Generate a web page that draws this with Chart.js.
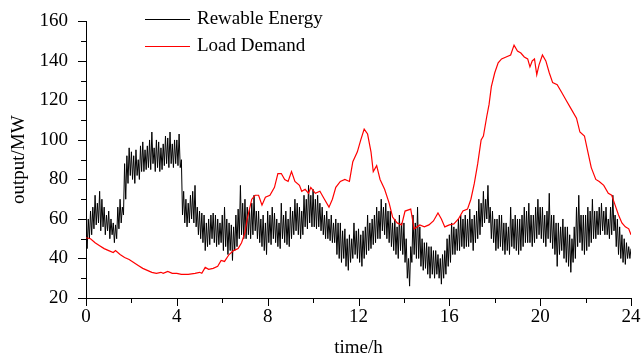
<!DOCTYPE html>
<html>
<head>
<meta charset="utf-8">
<script src="https://cdn.jsdelivr.net/npm/chart.js@4.4.1/dist/chart.umd.min.js"></script>
<style>
  html, body { margin: 0; padding: 0; background: #fff; }
  #wrap { width: 643px; height: 361px; }
</style>
</head>
<body>
<div id="wrap"><canvas id="powerChart" width="643" height="361"></canvas></div>
<script>
// renewable output, one reading every 0.05 h from 0 to 24 h (one row per hour)
const renewStep = 0.05;
const renewValues = [
  56, 45, 60, 50, 64, 52, 66, 55, 72, 57, 68, 58, 74, 54, 70, 56, 66, 52, 62, 54,
  64, 50, 60, 52, 58, 48, 57, 50, 66, 55, 70, 58, 66, 62, 88, 70, 92, 78, 96, 82,
  94, 80, 92, 78, 95, 82, 90, 80, 97, 84, 99, 84, 95, 85, 97, 86, 100, 85, 104, 88,
  96, 84, 100, 86, 99, 84, 96, 85, 98, 87, 102, 88, 101, 86, 104, 88, 98, 86, 100, 88,
  100, 87, 103, 86, 90, 62, 74, 58, 70, 56, 68, 58, 72, 60, 74, 58, 77, 56, 66, 52,
  64, 50, 63, 48, 62, 44, 58, 46, 60, 47, 62, 50, 63, 48, 62, 46, 60, 47, 58, 48,
  62, 44, 66, 46, 60, 42, 58, 44, 57, 39, 56, 44, 62, 46, 65, 50, 77, 52, 68, 50,
  70, 50, 66, 52, 65, 50, 68, 52, 72, 54, 64, 50, 64, 48, 60, 46, 62, 44, 58, 42,
  64, 48, 62, 47, 66, 50, 63, 48, 60, 46, 58, 45, 68, 50, 62, 48, 64, 47, 60, 46,
  66, 50, 64, 52, 70, 54, 68, 52, 66, 50, 64, 52, 72, 56, 70, 55, 77, 58, 72, 56,
  75, 56, 70, 55, 72, 56, 68, 54, 66, 52, 62, 50, 64, 50, 60, 49, 62, 48, 58, 48,
  60, 42, 58, 40, 58, 38, 54, 40, 55, 36, 50, 34, 52, 38, 50, 40, 58, 42, 54, 40,
  55, 38, 52, 36, 54, 40, 56, 42, 62, 44, 58, 45, 60, 47, 62, 48, 66, 50, 64, 50,
  70, 54, 66, 52, 68, 50, 64, 48, 64, 46, 58, 44, 60, 42, 56, 40, 62, 44, 58, 42,
  58, 38, 50, 30, 40, 26, 46, 38, 62, 42, 58, 40, 66, 40, 56, 36, 50, 34, 48, 35,
  48, 32, 46, 30, 46, 32, 44, 30, 44, 32, 42, 30, 40, 27, 42, 30, 44, 32, 50, 36,
  52, 38, 58, 42, 56, 42, 55, 44, 60, 44, 62, 46, 60, 45, 62, 46, 60, 46, 65, 48,
  60, 44, 62, 48, 64, 50, 70, 52, 68, 56, 74, 58, 70, 60, 77, 58, 66, 50, 64, 48,
  60, 44, 60, 45, 62, 46, 62, 44, 58, 42, 58, 44, 56, 42, 66, 46, 60, 45, 62, 44,
  60, 42, 60, 44, 62, 46, 66, 48, 64, 48, 68, 48, 62, 46, 62, 48, 66, 50, 70, 52,
  66, 50, 66, 48, 62, 46, 64, 50, 73, 48, 62, 45, 62, 42, 58, 36, 58, 42, 56, 44,
  60, 40, 56, 38, 56, 36, 52, 33, 50, 38, 56, 40, 66, 46, 72, 48, 62, 44, 62, 42,
  62, 44, 66, 46, 64, 48, 70, 50, 64, 50, 64, 52, 66, 52, 68, 54, 64, 52, 66, 52,
  60, 50, 66, 52, 72, 54, 62, 46, 60, 42, 56, 40, 52, 38, 50, 37, 48, 40, 46, 40,
  45
];

// load demand, read at irregular times (h)
const loadHours = [
  0, 0.2, 0.4, 0.6, 0.8, 1.0, 1.2, 1.3, 1.5, 1.7, 1.9, 2.1, 2.3, 2.5, 2.7, 2.9,
  3.1, 3.3, 3.4, 3.6, 3.8, 4.0, 4.2, 4.5, 4.8, 5.0, 5.1, 5.25, 5.4, 5.6, 5.8, 5.95,
  6.1, 6.3, 6.5, 6.7, 6.85, 7.0, 7.1, 7.2, 7.3, 7.45, 7.6, 7.75, 7.9, 8.1, 8.3, 8.45,
  8.6, 8.75, 8.9, 9.05, 9.2, 9.4, 9.5, 9.65, 9.8, 9.9, 10.1, 10.3, 10.5, 10.7, 10.85,
  11.0, 11.2, 11.4, 11.6, 11.75, 11.95, 12.1, 12.25, 12.4, 12.55, 12.65, 12.8, 12.95,
  13.15, 13.35, 13.5, 13.7, 13.9, 14.05, 14.3, 14.45, 14.7, 14.9, 15.1, 15.3, 15.5,
  15.65, 15.8, 16.0, 16.2, 16.4, 16.6, 16.8, 16.95, 17.1, 17.25, 17.4, 17.5, 17.65,
  17.75, 17.85, 18.0, 18.15, 18.3, 18.5, 18.7, 18.85, 19.0, 19.15, 19.3, 19.45, 19.55,
  19.65, 19.75, 19.85, 19.95, 20.1, 20.25, 20.4, 20.55, 20.75, 20.95, 21.15, 21.35,
  21.6, 21.75, 21.95, 22.1, 22.25, 22.45, 22.6, 22.8, 23.0, 23.15, 23.3, 23.45, 23.6,
  23.75, 23.9, 24.0
];
const loadValues = [
  50.5, 50, 48, 46.5, 45, 44, 43, 44, 42, 40.5, 39.5, 38, 36.5, 35, 34, 33,
  32.5, 33, 32.5, 33.5, 32.5, 32.5, 32, 32, 32.5, 33, 32.5, 35.5, 34.5, 35, 36, 39,
  38.5, 42, 44, 45, 48, 53, 60, 65, 70, 72, 72, 67, 71, 72, 76, 83,
  83, 80, 79, 84, 79, 77, 74, 75, 73, 76, 73, 74, 70, 66, 70,
  76, 79, 80, 79, 89, 94, 100, 105.5, 103, 94, 84, 87, 80,
  75, 68, 61, 58, 57, 64, 65, 55, 57, 56, 57, 59, 63,
  60, 56, 57, 57.5, 60, 64, 65, 70, 78, 88, 100, 102, 112,
  118, 127, 134, 139, 141, 142, 143, 148, 145, 144, 142, 141, 137,
  140, 141, 133, 138, 143, 140, 134, 129, 128, 124, 120, 116,
  111, 104, 102, 94, 86, 80, 79, 77, 73, 72, 67, 62, 58,
  56, 55, 52
];

// axis ticks
const xTicks = [0, 4, 8, 12, 16, 20, 24];
const yTicks = [20, 40, 60, 80, 100, 120, 140, 160];

const seriesNames = ['Rewable Energy', 'Load Demand'];
const font = '"Liberation Serif", "Times New Roman", serif';

const renewPoints = renewValues.map((v, i) => ({ x: Math.round(i * renewStep * 100) / 100, y: v }));
const loadPoints = loadHours.map((h, i) => ({ x: h, y: loadValues[i] }));

// outward tick marks (major + minor) and the in-plot legend
const axisDecor = {
  id: 'axisDecor',
  afterDraw(chart) {
    const ctx = chart.ctx;
    const xs = chart.scales.x;
    const ys = chart.scales.y;
    const area = chart.chartArea;
    ctx.save();
    ctx.strokeStyle = '#000';
    ctx.lineWidth = 1;
    ctx.beginPath();
    for (let i = 0; i < xTicks.length; i++) {
      const px = Math.round(xs.getPixelForValue(xTicks[i])) + 0.5;
      ctx.moveTo(px, area.bottom);
      ctx.lineTo(px, area.bottom + 8);
      if (i < xTicks.length - 1) {
        const mx = Math.round(xs.getPixelForValue((xTicks[i] + xTicks[i + 1]) / 2)) + 0.5;
        ctx.moveTo(mx, area.bottom);
        ctx.lineTo(mx, area.bottom + 5);
      }
    }
    for (let i = 0; i < yTicks.length; i++) {
      const py = Math.round(ys.getPixelForValue(yTicks[i])) + 0.5;
      ctx.moveTo(area.left, py);
      ctx.lineTo(area.left - 8, py);
      if (i < yTicks.length - 1) {
        const my = Math.round(ys.getPixelForValue((yTicks[i] + yTicks[i + 1]) / 2)) + 0.5;
        ctx.moveTo(area.left, my);
        ctx.lineTo(area.left - 5, my);
      }
    }
    ctx.stroke();

    // legend
    ctx.font = '19px ' + font;
    ctx.textBaseline = 'middle';
    ctx.fillStyle = '#000';
    chart.data.datasets.forEach((ds, i) => {
      const y = 19 + i * 27 + 0.5;
      ctx.strokeStyle = ds.borderColor;
      ctx.lineWidth = 1;
      ctx.beginPath();
      ctx.moveTo(145, y);
      ctx.lineTo(190, y);
      ctx.stroke();
      ctx.fillText(ds.label, 197, y);
    });
    ctx.restore();
  }
};

new Chart(document.getElementById('powerChart'), {
  type: 'line',
  data: {
    datasets: [
      {
        label: seriesNames[0],
        data: renewPoints,
        borderColor: '#000000',
        borderWidth: 1,
        pointRadius: 0,
        tension: 0,
        order: 2,
      },
      {
        label: seriesNames[1],
        data: loadPoints,
        borderColor: '#ff0000',
        borderWidth: 1.2,
        pointRadius: 0,
        tension: 0,
        order: 1,
      },
    ],
  },
  options: {
    responsive: false,
    animation: false,
    layout: { padding: { top: 18, right: 12, left: 0, bottom: 0 } },
    plugins: {
      legend: { display: false },
      tooltip: { enabled: false },
    },
    scales: {
      x: {
        type: 'linear',
        min: 0,
        max: 24,
        afterBuildTicks(scale) { scale.ticks = xTicks.map((v) => ({ value: v })); },
        afterFit(scale) { scale.height = 63; },
        ticks: { color: '#000', font: { family: font, size: 19 }, padding: 0, maxRotation: 0 },
        grid: { display: true, drawOnChartArea: false, drawTicks: true, tickLength: 8, color: 'rgba(0,0,0,0)' },
        border: { display: true, color: '#000', width: 1 },
        title: { display: true, text: 'time/h', color: '#000', font: { family: font, size: 19 }, padding: { top: 0, bottom: 2 } },
      },
      y: {
        min: 20,
        max: 160,
        afterBuildTicks(scale) { scale.ticks = yTicks.map((v) => ({ value: v })); },
        afterFit(scale) { scale.width = 86; },
        ticks: { color: '#000', font: { family: font, size: 19 }, padding: 10 },
        grid: { display: true, drawOnChartArea: false, drawTicks: true, tickLength: 8, color: 'rgba(0,0,0,0)' },
        border: { display: true, color: '#000', width: 1 },
        title: { display: true, text: 'output/MW', color: '#000', font: { family: font, size: 19 }, padding: { top: 8, bottom: 0 } },
      },
    },
  },
  plugins: [axisDecor],
});
</script>
</body>
</html>
